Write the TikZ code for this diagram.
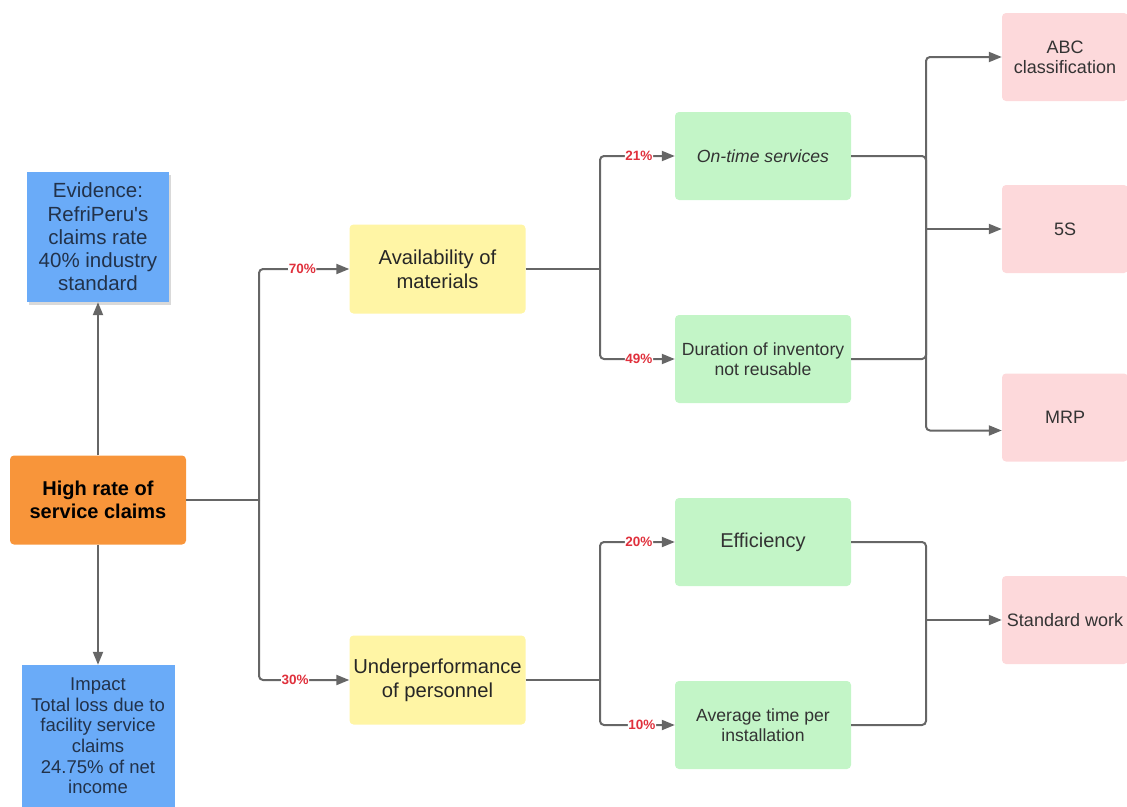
\documentclass[tikz,border=0pt]{standalone}
\usepackage{fontspec}
\setmainfont{Liberation Sans}
\usetikzlibrary{arrows.meta,shadows,calc}
\definecolor{orangeC}{HTML}{F8953A}
\definecolor{yellowC}{HTML}{FFF5A5}
\definecolor{greenC}{HTML}{C3F5C7}
\definecolor{pinkC}{HTML}{FDD9DB}
\definecolor{blueC}{HTML}{6AABF8}
\definecolor{lineC}{HTML}{666666}
\definecolor{pctC}{HTML}{E0303C}
\definecolor{txtC}{HTML}{333333}
\definecolor{bluetxt}{HTML}{22324A}
\begin{document}
\begin{tikzpicture}[x=1pt,y=-1pt,
  box/.style={draw=none,rounded corners=4pt,minimum width=176pt,minimum height=88pt,align=center,inner sep=1pt,text=txtC},
  rootbox/.style={box,fill=orangeC,text=black,minimum height=89pt,font=\bfseries\fontsize{20}{23.5}\selectfont},
  ybox/.style={box,fill=yellowC,text=black!85,minimum height=89pt,font=\fontsize{20.2}{24}\selectfont},
  gbox/.style={box,fill=greenC,font=\fontsize{17.6}{20}\selectfont},
  pbox/.style={box,fill=pinkC,minimum width=126pt,font=\fontsize{18}{20}\selectfont},
  bbox/.style={draw=none,fill=blueC,align=center,inner sep=2pt,text=bluetxt},
  ln/.style={draw=lineC,line width=2pt,rounded corners=4pt},
  arr/.style={ln,-{Triangle[length=13pt,width=10pt]}},
  pct/.style={fill=white,text=pctC,inner sep=0.6pt,font=\bfseries\fontsize{13.5}{15}\selectfont}
]
\useasboundingbox (0,0) rectangle (1127,806);

% nodes
\node[bbox,minimum width=142pt,minimum height=130pt,
  drop shadow={shadow xshift=1.5pt,shadow yshift=-3pt,opacity=0.15,fill=black},
  font=\fontsize{20.5}{23.3}\selectfont] (evid) at (98,237)
  {Evidence:\\RefriPeru\textquotesingle s\\claims rate\\40\% industry\\standard};
\node[rootbox] (root) at (98,500) {High rate of\\service claims};
\node[bbox,minimum width=153pt,minimum height=142pt,
  font=\fontsize{18.5}{20.6}\selectfont] (impact) at (98,736)
  {Impact\\Total loss due to\\facility service\\claims\\24.75\% of net\\income};

\node[ybox] (avail) at (437.5,269) {Availability of\\materials};
\node[ybox] (under) at (437.5,680) {Underperformance\\of personnel};

\node[gbox,font=\itshape\fontsize{17.6}{20}\selectfont] (ontime) at (763,156) {On-time services};
\node[gbox] (dur) at (763,359) {Duration of inventory\\not reusable};
\node[gbox,font=\fontsize{20}{22}\selectfont] (eff) at (763,542) {Efficiency};
\node[gbox] (avg) at (763,725) {Average time per\\installation};

\node[pbox] (abc) at (1065,57) {ABC\\classification};
\node[pbox] (fives) at (1065,229) {5S};
\node[pbox] (mrp) at (1065,417.5) {MRP};
\node[pbox] (std) at (1065,620) {Standard work};

% connectors
\draw[arr] (root.north) -- (evid.south);
\draw[arr] (root.south) -- (impact.north);

\coordinate (j1) at (259,500);
\draw[ln] (root.east) -- (j1);
\draw[arr] (j1) |- node[pct,pos=0.74]{70\%} (avail.west);
\draw[arr] (j1) |- node[pct,pos=0.70]{30\%} (under.west);

\coordinate (j2) at (600,269);
\draw[ln] (avail.east) -- (j2);
\draw[arr] (j2) |- node[pct,pos=0.76]{21\%} (ontime.west);
\draw[arr] (j2) |- node[pct,pos=0.76]{49\%} (dur.west);

\coordinate (j3) at (600,680);
\draw[ln] (under.east) -- (j3);
\draw[arr] (j3) |- node[pct,pos=0.76]{20\%} (eff.west);
\draw[arr] (j3) |- node[pct,pos=0.78]{10\%} (avg.west);

\coordinate (j4) at (926,229);
\draw[ln] (ontime.east) -| (j4);
\draw[ln] (dur.east) -| (j4);
\draw[arr] (j4) |- (abc.west);
\draw[arr] (j4) -- (fives.west);
\draw[arr] (j4) |- ([yshift=-13pt]mrp.west);

\coordinate (j5) at (926,620);
\draw[ln] (eff.east) -| (j5);
\draw[ln] (avg.east) -| (j5);
\draw[arr] (j5) -- (std.west);
\end{tikzpicture}
\end{document}
